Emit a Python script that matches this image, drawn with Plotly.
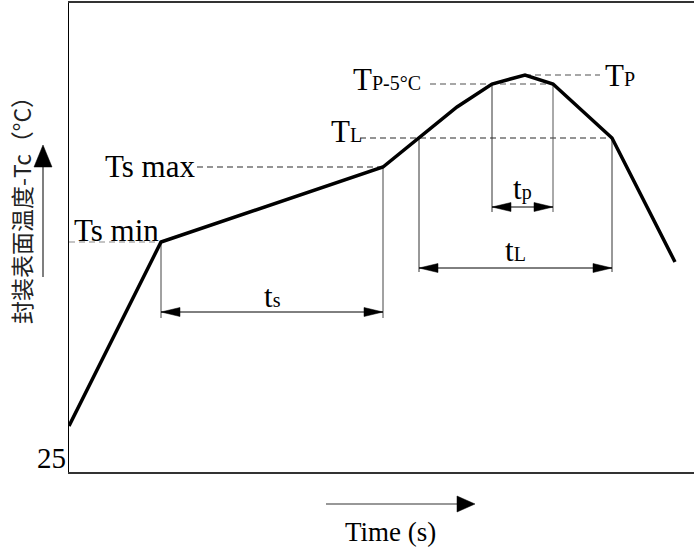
import plotly.graph_objects as go

# ===== DATA (schematic units: time right from the left frame, temperature up from the 25 line) ===== #
profile_time = [0, 92, 314, 350, 388, 423, 456, 484, 543, 606]
profile_temp = [46, 230, 305, 334, 365, 388, 397, 388, 334, 210]

ts_min, ts_max, t_liquidus, tp_minus5, t_peak = 230, 305, 334, 388, 397
t_ts_start, t_ts_end = 92, 314
t_l_start, t_l_end = 350, 543
t_p_start, t_p_end, t_peak_time = 423, 484, 456

# levels where the dimension arrows sit
ts_arrow_y, tl_arrow_y, tp_arrow_y = 160, 204, 265

X_RANGE = [0, 625]
Y_RANGE = [0, 469]

SERIF = "Liberation Serif, Times New Roman, serif"
GRAY_DASH = "#8a8a8a"
DARK_DASH = "#2a2a2a"
HEAD_LEN, HEAD_HALF = 19, 4.5

fig = go.Figure()

def add_line(x, y, color="black", width=1, dash=None):
    fig.add_trace(go.Scatter(x=x, y=y, mode="lines", hoverinfo="skip", showlegend=False,
                             line=dict(color=color, width=width, dash=dash)))

def add_dim_arrow(x0, x1, y, color="black"):
    # two-headed horizontal arrow with long, narrow filled heads
    add_line([x0, x1], [y, y], color=color, width=1)
    for tip, back in ((x0, x0 + HEAD_LEN), (x1, x1 - HEAD_LEN)):
        fig.add_trace(go.Scatter(x=[tip, back, back, tip], y=[y, y + HEAD_HALF, y - HEAD_HALF, y],
                                 fill="toself", fillcolor=color, mode="lines", hoverinfo="skip",
                                 line=dict(color=color, width=0.5), showlegend=False))

# ===== DASHED LEVEL LINES ===== #
add_line([0, t_ts_start], [ts_min, ts_min], GRAY_DASH, 1.2, "6px,4px")
add_line([128, t_ts_end], [ts_max, ts_max], DARK_DASH, 1.2, "6px,4px")
add_line([291, t_l_end], [t_liquidus, t_liquidus], DARK_DASH, 1.2, "6px,4px")
add_line([361, t_p_end], [tp_minus5, tp_minus5], GRAY_DASH, 1.4, "6px,4px")
add_line([t_peak_time, 531], [t_peak, t_peak], GRAY_DASH, 1.4, "6px,4px")

# ===== EXTENSION LINES ===== #
add_line([t_ts_start, t_ts_start], [ts_min, ts_arrow_y - 6], "#444")
add_line([t_ts_end, t_ts_end], [ts_max, ts_arrow_y - 6], "#444")
add_line([t_l_start, t_l_start], [t_liquidus, tl_arrow_y - 4], "#333")
add_line([t_l_end, t_l_end], [t_liquidus, tl_arrow_y - 4], "#333")
add_line([t_p_start, t_p_start], [tp_minus5, tp_arrow_y - 5], "#333")
add_line([t_p_end, t_p_end], [tp_minus5, tp_arrow_y - 5], "#555")

# ===== DIMENSION ARROWS ===== #
add_dim_arrow(t_ts_start, t_ts_end, ts_arrow_y)
add_dim_arrow(t_l_start, t_l_end, tl_arrow_y)
add_dim_arrow(t_p_start, t_p_end, tp_arrow_y)

# ===== PROFILE ===== #
add_line(profile_time, profile_temp, "black", 3.5)

# ===== LABELS ===== #
def label(text, x, y, size=31, xanchor="center", xref="x", yref="y", angle=0, family=SERIF, color="black"):
    fig.add_annotation(text=text, x=x, y=y, xref=xref, yref=yref, xanchor=xanchor, yanchor="middle",
                       showarrow=False, textangle=angle, font=dict(family=family, size=size, color=color))

small = "<span style='font-size:20px'>{}</span>"
label("Ts min", 47, 242)
label("Ts max", 81, 306)
label("T" + small.format("L"), 277, 341)
label("T" + small.format("P-5°C"), 318, 393)
label("T" + small.format("P"), 551, 397)
label("t" + small.format("s"), (t_ts_start + t_ts_end) / 2, ts_arrow_y + 16)
label("t" + small.format("p"), (t_p_start + t_p_end) / 2, tp_arrow_y + 19)
label("t" + small.format("L"), (t_l_start + t_l_end) / 2, tl_arrow_y + 18)

fig.add_annotation(text="25", x=0, y=0, xref="x", yref="y", xanchor="right", yanchor="bottom",
                   showarrow=False, xshift=-1, yshift=-4, font=dict(family=SERIF, size=29, color="black"))

label("封装表面温度-Tc（°C）", -0.078, 0.57, size=23, xref="paper", yref="paper", angle=-90,
      family="Noto Sans CJK SC", color="#222")
label("Time (s)", 0.514, -0.128, size=27, xref="paper", yref="paper")

# ===== AXIS DIRECTION ARROWS (outside the plot area) ===== #
fig.add_shape(type="line", xref="paper", yref="paper", x0=-0.0416, x1=-0.0416, y0=0.4158, y1=0.66,
              line=dict(color="#555", width=1.5))
fig.add_shape(type="path", xref="paper", yref="paper", fillcolor="black", line=dict(color="black", width=0.5),
              path="M -0.056,0.6503 L -0.0272,0.6503 L -0.0416,0.6972 Z")
fig.add_shape(type="line", xref="paper", yref="paper", x0=0.4112, x1=0.63, y0=-0.0682, y1=-0.0682,
              line=dict(color="#333", width=1.2))
fig.add_shape(type="path", xref="paper", yref="paper", fillcolor="black", line=dict(color="black", width=0.5),
              path="M 0.6208,-0.0512 L 0.6208,-0.0853 L 0.6496,-0.0682 Z")

fig.update_layout(
    width=694, height=553,
    margin=dict(l=69, r=0, t=3, b=81, autoexpand=False),
    paper_bgcolor="white", plot_bgcolor="white",
    xaxis=dict(range=X_RANGE, showgrid=False, zeroline=False, showticklabels=False, ticks="",
               showline=True, linecolor="#333", linewidth=1.5, mirror=True),
    yaxis=dict(range=Y_RANGE, showgrid=False, zeroline=False, showticklabels=False, ticks="",
               showline=True, linecolor="black", linewidth=1),
)

# drop the browser's default body margin so the figure sits at the page corner
fig.write_html("out.html", config={"displayModeBar": False},
               post_script="document.body.style.margin = '0';")
